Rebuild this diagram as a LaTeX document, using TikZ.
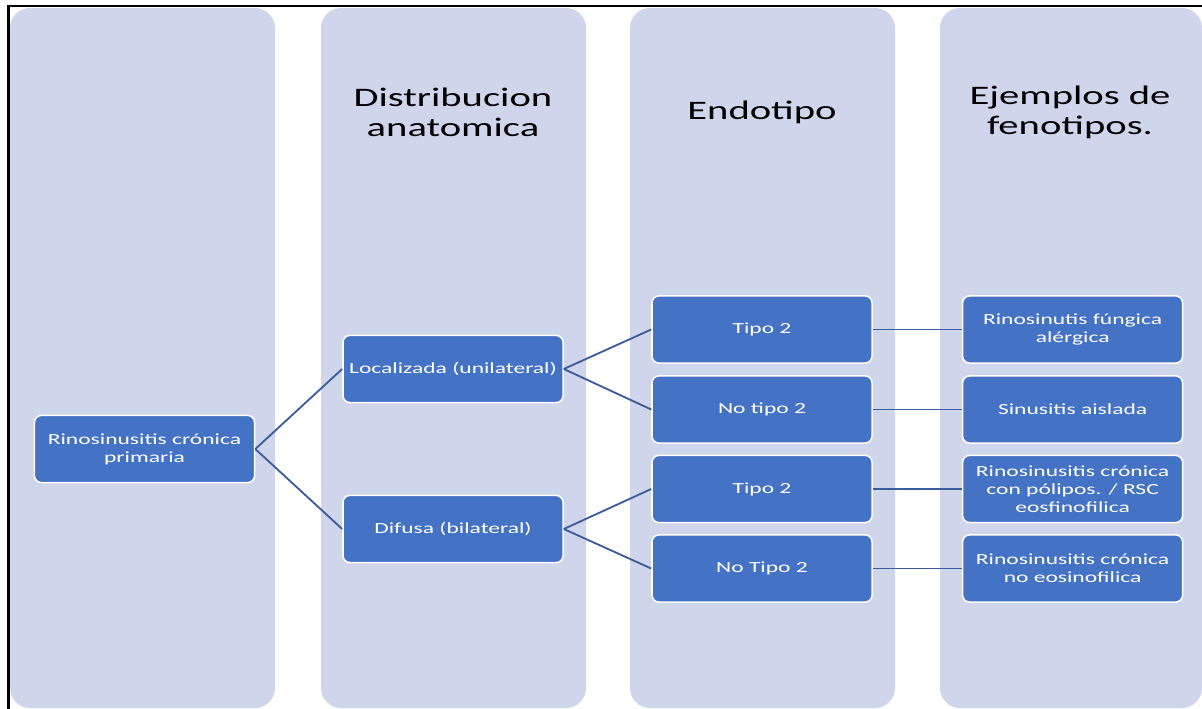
\documentclass[tikz,border=0pt]{standalone}
\usepackage{fontspec}
\setmainfont{Carlito}[FakeStretch=1.52]
\usepackage{xcolor}
\usepackage{tikz}
\usetikzlibrary{positioning}
\definecolor{lanebg}{HTML}{CFD5EA}
\definecolor{boxblue}{HTML}{4472C4}
\definecolor{linkc}{HTML}{3A5C9C}
\tikzset{
  lane/.style={fill=lanebg,rounded corners=0.5cm},
  lanehead/.style={font=\fontsize{19}{21.3}\selectfont,align=center,text=black},
  cbox/.style={draw=white,line width=1.1pt,fill=boxblue,rounded corners=5pt,
    text=white,inner sep=1pt,align=center,minimum width=5.5cm,minimum height=1.68cm,
    font=\fontsize{11}{12.8}\selectfont},
  link/.style={draw=linkc,line width=1.3pt},
}
\begin{document}
\begin{tikzpicture}[x=0.025cm,y=-0.025cm,node distance=2.225cm]
  \useasboundingbox (0,0) rectangle (1202,709);
  % the four lanes
  \foreach \x/\w in {10/265,321/265,630/265,940/262}
    \fill[lane] (\x,8) rectangle ++(\w,700);
  \draw[line width=1.8pt] (8.7,709) -- (8.7,6.2) -- (1202,6.2);
  % lane titles
  \node[lanehead] (hdist) at (453,112) {Distribucion\\anatomica};
  \node[lanehead] (hendo) at (762,112) {Endotipo};
  \node[lanehead] (hfeno) at (1070,112) {Ejemplos de\\fenotipos.};
  % tree
  \node[cbox] (rsc) at (144.5,449) {Rinosinusitis crónica\\primaria};
  \node[cbox] (loc) at (453,369) {Localizada (unilateral)};
  \node[cbox] (dif) at (453,529) {Difusa (bilateral)};
  \node[cbox] (lt2) at (762,329.5) {Tipo 2};
  \node[cbox] (lnt2) at (762,409.5) {No tipo 2};
  \node[cbox] (dt2) at (762,489) {Tipo 2};
  \node[cbox] (dnt2) at (762,568.5) {No Tipo 2};
  \node[cbox,right=of lt2] (fung) {Rinosinutis fúngica\\alérgica};
  \node[cbox,right=of lnt2] (sin) {Sinusitis aislada};
  \node[cbox,right=of dt2] (pol) {Rinosinusitis crónica\\con pólipos. / RSC\\eosfinofilica};
  \node[cbox,right=of dnt2] (noeo) {Rinosinusitis crónica\\no eosinofilica};
  \foreach \a/\b in {rsc/loc,rsc/dif,loc/lt2,loc/lnt2,dif/dt2,dif/dnt2,
      lt2/fung,lnt2/sin,dt2/pol,dnt2/noeo}
    \draw[link] (\a.east) -- (\b.west);
\end{tikzpicture}
\end{document}
